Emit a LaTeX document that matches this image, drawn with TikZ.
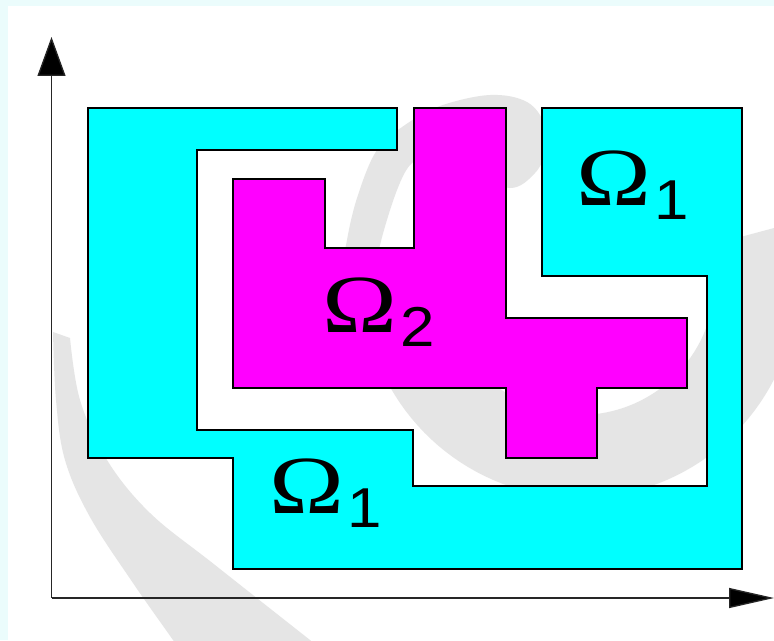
\documentclass[tikz,border=0pt]{standalone}
\usepackage{fontspec}
\usepackage{graphicx}
\setmainfont{Liberation Sans}
\newfontfamily\omegafont{Liberation Serif}
\usetikzlibrary{arrows.meta}

\definecolor{bgcyan}{RGB}{235,252,252}
\definecolor{swirl}{RGB}{229,229,229}
\definecolor{omegacyan}{RGB}{0,255,255}
\definecolor{omegamagenta}{RGB}{255,0,255}
\newcommand{\domlabel}[1]{\scalebox{1.22}[1]{\omegafont Ω}\hspace{2pt}\raisebox{-8.5pt}{\scalebox{1.1}[1]{\fontsize{32}{32}\selectfont #1}}}

\begin{document}
\begin{tikzpicture}[x=0.02cm, y=-0.02cm,
    region/.style={draw=black, line width=1.6pt},
    omega/.style={anchor=base west, inner sep=0pt, font=\fontsize{47}{50}\selectfont},
    axis/.style={draw=black!85, line width=0.75pt}]
        % Frame
        \clip (0,0) rectangle (774,640);
        \fill[bgcyan] (0,0) rectangle (774,640);
        \fill[white] (8,6) rectangle (774,640);

        % Watermark
        \fill[swirl] plot[smooth, tension=0.6] coordinates {(53,332) (56,400) (65,460) (90,517) (133,583) (173,640) (190,665)}
        -- (340,665) -- plot[smooth, tension=0.6] coordinates {(310,640) (215,565) (150,513) (107,460) (80,400) (70,338)} -- cycle;
        \fill[swirl] plot[domain=-15:180, samples=80] ({580+218*cos(\x)},{280+218*sin(\x)})
        -- plot[domain=180:-15, samples=80] ({580+135*cos(\x)},{280+135*sin(\x)}) -- cycle;
        \fill[swirl] plot[smooth cycle, tension=0.6] coordinates {(342,285) (347,240) (358,195) (377,150) (405,125) (440,106)
        (490,95) (527,102) (545,125) (546,150) (535,173) (510,188) (470,172) (430,160) (412,163) (397,190) (380,245) (374,285)};

        % Domains
        \filldraw[region, fill=omegacyan] (88,108) -| (397,150) -| (197,430) -| (413,486) -| (707,276)
        -| (542,108) -| (742,569) -| (233,458) -| (88,108) -- cycle;
        \filldraw[region, fill=omegamagenta] (233,179) -| (325,248) -| (414,108) -| (506,318) -| (687,388)
        -| (597,458) -| (506,388) -| (233,179) -- cycle;

        \node[omega] (omega1top) at (576,205) {\domlabel{1}};
        \node[omega] (omega2) at (322,332) {\domlabel{2}};
        \node[omega] (omega1bottom) at (269,513) {\domlabel{1}};

        % Axes
        \coordinate (origin) at (51.5,598);
        \coordinate (ytip) at (51.5,37);
        \coordinate (xtip) at (774,598);
        \draw[axis, -{Triangle[length=0.78cm,width=0.56cm,fill=black]}] (origin) -- (ytip);
        \draw[axis, -{Triangle[length=0.9cm,width=0.4cm,fill=black]}] (origin) -- (xtip);
\end{tikzpicture}
\end{document}
